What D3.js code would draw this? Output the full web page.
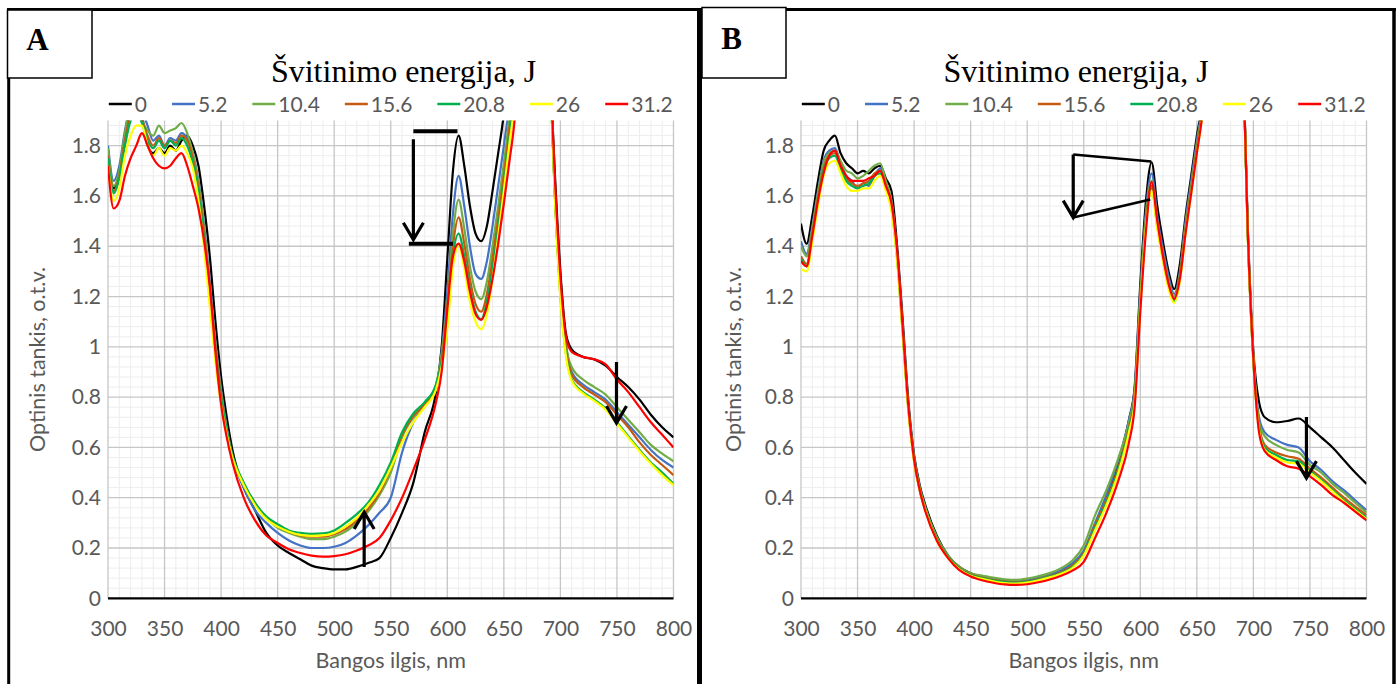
<!DOCTYPE html>
<html>
<head>
<meta charset="utf-8">
<script src="https://cdn.jsdelivr.net/npm/d3@7/dist/d3.min.js"></script>
<style>
  body { margin: 0; background: #fff; }
  svg { display: block; }
  .tick text, .legend text, .axis-title { font-family: Lato, "Open Sans", sans-serif; fill: #595959; }
</style>
</head>
<body>
<svg id="chart" width="1400" height="684"></svg>
<script>
// wavelength grid (nm) shared by all spectra
const wavelengths = [
  300, 305, 310, 315, 320, 325, 330, 335, 340, 345, 350, 355, 360, 365, 370, 375, 380, 385, 390, 395, 400,
  405, 410,
  420, 430, 440, 450, 460, 470, 480, 490, 500, 510, 520, 530, 540, 550, 560, 570, 580, 590,
  595, 600, 605, 610, 615, 620, 625, 630, 635, 640, 645, 650, 655, 660,
  670, 680, 690,
  695, 700, 705,
  710, 720, 730, 740, 750, 760, 770, 780, 790, 800
];

const energies = ["0", "5.2", "10.4", "15.6", "20.8", "26", "31.2"];
const lineColors = ["#000000", "#4472C4", "#70AD47", "#C55A11", "#00B050", "#FFFF00", "#FF0000"];

const xTicks = [300, 350, 400, 450, 500, 550, 600, 650, 700, 750, 800];
const yTicks = [0, 0.2, 0.4, 0.6, 0.8, 1, 1.2, 1.4, 1.6, 1.8];

// ---- panel A : optical density, o.t.v. ----
const a_0 = [
  1.78, 1.63, 1.68, 1.82, 1.95, 1.98, 1.92, 1.80, 1.77, 1.79, 1.77, 1.80, 1.78, 1.82, 1.84, 1.80, 1.72, 1.56, 1.36, 1.10, 0.88,
  0.72, 0.59,
  0.44, 0.35, 0.26, 0.21, 0.18, 0.155, 0.13, 0.12, 0.115, 0.115, 0.125, 0.14, 0.16, 0.24, 0.34, 0.46, 0.66, 0.82,
  1.00, 1.35, 1.70, 1.84, 1.72, 1.56, 1.45, 1.42, 1.48, 1.62, 1.77, 1.93, 2.20, 2.50,
  3.00, 3.10, 2.20,
  1.70, 1.30, 1.05,
  0.99, 0.96, 0.95, 0.925, 0.88, 0.84, 0.79, 0.73, 0.68, 0.64
];
const a_5_2 = [
  1.80, 1.66, 1.72, 1.86, 1.96, 1.98, 1.94, 1.88, 1.82, 1.84, 1.80, 1.83, 1.82, 1.85, 1.83, 1.77, 1.66, 1.48, 1.26, 1.02, 0.83,
  0.68, 0.56,
  0.44, 0.35, 0.30, 0.26, 0.23, 0.21, 0.20, 0.20, 0.205, 0.22, 0.25, 0.29, 0.34, 0.40, 0.58, 0.70, 0.77, 0.84,
  0.98, 1.22, 1.53, 1.68, 1.56, 1.40, 1.29, 1.27, 1.34, 1.48, 1.64, 1.80, 1.98, 2.30,
  3.00, 3.10, 2.20,
  1.62, 1.24, 1.01,
  0.90, 0.85, 0.82, 0.79, 0.74, 0.69, 0.64, 0.59, 0.55, 0.52
];
const a_10_4 = [
  1.79, 1.64, 1.70, 1.85, 1.95, 1.96, 1.90, 1.86, 1.84, 1.88, 1.85, 1.86, 1.87, 1.89, 1.85, 1.77, 1.65, 1.47, 1.24, 1.01, 0.82,
  0.67, 0.56,
  0.45, 0.375, 0.32, 0.28, 0.26, 0.245, 0.235, 0.235, 0.245, 0.265, 0.30, 0.345, 0.41, 0.50, 0.64, 0.72, 0.77, 0.85,
  0.97, 1.17, 1.45, 1.585, 1.47, 1.32, 1.22, 1.19, 1.26, 1.40, 1.56, 1.73, 1.92, 2.20,
  3.00, 3.10, 2.20,
  1.62, 1.22, 1.00,
  0.92, 0.87, 0.84, 0.81, 0.76, 0.71, 0.66, 0.61, 0.575, 0.545
];
const a_15_6 = [
  1.76, 1.62, 1.68, 1.82, 1.92, 1.94, 1.90, 1.84, 1.80, 1.83, 1.80, 1.82, 1.81, 1.84, 1.82, 1.75, 1.63, 1.45, 1.22, 1.00, 0.81,
  0.67, 0.56,
  0.455, 0.38, 0.32, 0.285, 0.265, 0.25, 0.245, 0.245, 0.255, 0.275, 0.31, 0.355, 0.42, 0.52, 0.65, 0.725, 0.77, 0.84,
  0.95, 1.14, 1.40, 1.515, 1.41, 1.27, 1.17, 1.14, 1.21, 1.35, 1.51, 1.68, 1.87, 2.10,
  3.00, 3.10, 2.20,
  1.62, 1.22, 0.99,
  0.89, 0.84, 0.81, 0.78, 0.73, 0.68, 0.62, 0.57, 0.53, 0.49
];
const a_20_8 = [
  1.75, 1.61, 1.67, 1.80, 1.90, 1.93, 1.89, 1.82, 1.79, 1.82, 1.79, 1.82, 1.80, 1.83, 1.80, 1.73, 1.61, 1.43, 1.20, 0.98, 0.80,
  0.67, 0.57,
  0.46, 0.38, 0.325, 0.295, 0.27, 0.26, 0.256, 0.258, 0.27, 0.30, 0.335, 0.38, 0.45, 0.54, 0.66, 0.735, 0.78, 0.85,
  0.94, 1.10, 1.36, 1.45, 1.36, 1.23, 1.14, 1.11, 1.18, 1.31, 1.47, 1.64, 1.83, 2.05,
  3.00, 3.10, 2.20,
  1.61, 1.20, 0.97,
  0.87, 0.82, 0.79, 0.755, 0.70, 0.645, 0.59, 0.54, 0.50, 0.455
];
const a_26 = [
  1.72, 1.58, 1.63, 1.76, 1.84, 1.88, 1.88, 1.80, 1.76, 1.79, 1.76, 1.79, 1.78, 1.80, 1.77, 1.71, 1.58, 1.39, 1.16, 0.94, 0.77,
  0.65, 0.56,
  0.45, 0.37, 0.315, 0.285, 0.265, 0.252, 0.248, 0.25, 0.26, 0.285, 0.32, 0.37, 0.43, 0.52, 0.62, 0.70, 0.76, 0.83,
  0.92, 1.07, 1.32, 1.40, 1.31, 1.18, 1.10, 1.07, 1.13, 1.27, 1.44, 1.62, 1.81, 2.00,
  3.00, 3.10, 2.20,
  1.60, 1.19, 0.96,
  0.865, 0.815, 0.785, 0.75, 0.695, 0.64, 0.585, 0.535, 0.49, 0.45
];
const a_31_2 = [
  1.72, 1.55, 1.58, 1.68, 1.75, 1.80, 1.85, 1.80, 1.75, 1.72, 1.71, 1.72, 1.75, 1.77, 1.72, 1.64, 1.55, 1.42, 1.24, 0.98, 0.77,
  0.64, 0.54,
  0.40, 0.31, 0.25, 0.22, 0.195, 0.18, 0.17, 0.166, 0.168, 0.175, 0.19, 0.21, 0.24, 0.31, 0.40, 0.51, 0.63, 0.78,
  0.90, 1.15, 1.36, 1.41, 1.34, 1.22, 1.13, 1.107, 1.16, 1.27, 1.41, 1.57, 1.74, 1.93,
  3.00, 3.10, 2.20,
  1.68, 1.28, 1.04,
  0.98, 0.96, 0.95, 0.93, 0.87, 0.82, 0.76, 0.70, 0.65, 0.60
];

// ---- panel B ----
const b_0 = [
  1.49, 1.41, 1.52, 1.66, 1.78, 1.82, 1.84, 1.77, 1.73, 1.71, 1.69, 1.70, 1.69, 1.71, 1.72, 1.67, 1.62, 1.40, 1.10, 0.78, 0.57,
  0.45, 0.37,
  0.25, 0.17, 0.125, 0.10, 0.085, 0.077, 0.068, 0.064, 0.07, 0.078, 0.09, 0.105, 0.13, 0.18, 0.29, 0.40, 0.53, 0.71,
  0.84, 1.25, 1.58, 1.734, 1.56, 1.42, 1.30, 1.23, 1.33, 1.52, 1.68, 1.84, 1.98, 2.30,
  2.90, 3.00, 2.30,
  1.48, 0.98, 0.78,
  0.72, 0.70, 0.705, 0.715, 0.68, 0.64, 0.60, 0.55, 0.50, 0.455
];
const b_5_2 = [
  1.42, 1.37, 1.48, 1.62, 1.74, 1.78, 1.79, 1.73, 1.68, 1.66, 1.63, 1.65, 1.64, 1.68, 1.71, 1.65, 1.58, 1.37, 1.07, 0.76, 0.56,
  0.44, 0.36,
  0.24, 0.165, 0.12, 0.098, 0.085, 0.076, 0.07, 0.067, 0.072, 0.082, 0.095, 0.112, 0.14, 0.19, 0.30, 0.41, 0.54, 0.71,
  0.83, 1.22, 1.54, 1.69, 1.52, 1.39, 1.28, 1.21, 1.30, 1.50, 1.66, 1.82, 1.97, 2.25,
  2.90, 3.00, 2.30,
  1.46, 0.96, 0.72,
  0.66, 0.63, 0.61, 0.60, 0.545, 0.51, 0.465, 0.43, 0.39, 0.35
];
const b_10_4 = [
  1.40, 1.36, 1.47, 1.61, 1.73, 1.77, 1.78, 1.74, 1.70, 1.69, 1.67, 1.68, 1.70, 1.72, 1.73, 1.66, 1.58, 1.37, 1.07, 0.76, 0.56,
  0.44, 0.36,
  0.245, 0.17, 0.125, 0.10, 0.09, 0.082, 0.075, 0.073, 0.078, 0.088, 0.10, 0.12, 0.15, 0.21, 0.33, 0.43, 0.55, 0.70,
  0.82, 1.20, 1.52, 1.66, 1.50, 1.37, 1.26, 1.20, 1.29, 1.48, 1.64, 1.80, 1.96, 2.20,
  2.90, 3.00, 2.30,
  1.46, 0.96, 0.70,
  0.645, 0.61, 0.59, 0.58, 0.53, 0.50, 0.455, 0.42, 0.38, 0.34
];
const b_15_6 = [
  1.36, 1.33, 1.45, 1.59, 1.71, 1.76, 1.77, 1.72, 1.67, 1.65, 1.64, 1.65, 1.66, 1.69, 1.70, 1.64, 1.56, 1.36, 1.06, 0.75, 0.55,
  0.43, 0.35,
  0.235, 0.165, 0.12, 0.095, 0.082, 0.072, 0.066, 0.063, 0.067, 0.076, 0.088, 0.104, 0.13, 0.18, 0.29, 0.39, 0.51, 0.68,
  0.80, 1.18, 1.50, 1.64, 1.49, 1.36, 1.25, 1.19, 1.28, 1.47, 1.63, 1.79, 1.95, 2.20,
  2.90, 3.00, 2.30,
  1.45, 0.95, 0.69,
  0.61, 0.58, 0.565, 0.555, 0.515, 0.48, 0.44, 0.40, 0.365, 0.33
];
const b_20_8 = [
  1.35, 1.32, 1.44, 1.58, 1.70, 1.75, 1.76, 1.71, 1.66, 1.64, 1.63, 1.64, 1.65, 1.68, 1.69, 1.63, 1.55, 1.35, 1.05, 0.75, 0.55,
  0.43, 0.35,
  0.235, 0.165, 0.118, 0.093, 0.08, 0.07, 0.064, 0.061, 0.065, 0.074, 0.086, 0.10, 0.125, 0.175, 0.28, 0.38, 0.50, 0.67,
  0.79, 1.17, 1.49, 1.63, 1.48, 1.35, 1.24, 1.18, 1.27, 1.46, 1.62, 1.78, 1.94, 2.20,
  2.90, 3.00, 2.30,
  1.45, 0.94, 0.68,
  0.60, 0.57, 0.55, 0.545, 0.505, 0.47, 0.43, 0.39, 0.355, 0.32
];
const b_26 = [
  1.31, 1.30, 1.42, 1.56, 1.68, 1.73, 1.74, 1.69, 1.64, 1.62, 1.62, 1.63, 1.63, 1.66, 1.68, 1.62, 1.54, 1.34, 1.04, 0.74, 0.54,
  0.43, 0.35,
  0.23, 0.16, 0.115, 0.09, 0.077, 0.067, 0.06, 0.058, 0.062, 0.071, 0.083, 0.098, 0.12, 0.17, 0.27, 0.37, 0.49, 0.66,
  0.78, 1.16, 1.48, 1.62, 1.47, 1.34, 1.23, 1.175, 1.26, 1.45, 1.61, 1.77, 1.93, 2.20,
  2.90, 3.00, 2.30,
  1.44, 0.94, 0.67,
  0.59, 0.56, 0.54, 0.535, 0.50, 0.465, 0.425, 0.385, 0.35, 0.315
];
const b_31_2 = [
  1.34, 1.32, 1.44, 1.58, 1.69, 1.76, 1.78, 1.72, 1.68, 1.66, 1.66, 1.66, 1.67, 1.68, 1.70, 1.64, 1.57, 1.38, 1.07, 0.76, 0.55,
  0.43, 0.345,
  0.23, 0.16, 0.112, 0.087, 0.072, 0.062, 0.055, 0.053, 0.056, 0.064, 0.075, 0.09, 0.11, 0.145, 0.24, 0.34, 0.46, 0.62,
  0.76, 1.14, 1.46, 1.655, 1.50, 1.36, 1.25, 1.19, 1.27, 1.45, 1.61, 1.77, 1.93, 2.20,
  2.90, 3.00, 2.30,
  1.46, 0.95, 0.66,
  0.585, 0.55, 0.525, 0.515, 0.485, 0.45, 0.41, 0.38, 0.345, 0.31
];

// hand-drawn annotations, in data units (nm, o.t.v.)
const barsA = [{ x1: 570, x2: 609, y: 1.857 }, { x1: 566, x2: 605, y: 1.41 }];
const arrowsA = [{ x: 570, y1: 1.825, y2: 1.426 }, { x: 526.5, y1: 0.124, y2: 0.343 }, { x: 749.6, y1: 0.94, y2: 0.697 }];
const linesB = [{ x1: 540.7, y1: 1.765, x2: 609.7, y2: 1.737 }, { x1: 540.7, y1: 1.514, x2: 608.8, y2: 1.586 }];
const arrowsB = [{ x: 540.7, y1: 1.765, y2: 1.514 }, { x: 746.9, y1: 0.721, y2: 0.478 }];

const svg = d3.select("#chart");
const plotW = 565.5, plotTop = 120.5, plotBottom = 598.3;
const labelSize = "21px";

const panels = [
  { name: "A", left: 108, series: [a_0, a_5_2, a_10_4, a_15_6, a_20_8, a_26, a_31_2],
    titleX: 403.5, yTitleX: 45, bars: barsA, lines: [], arrows: arrowsA,
    box: [7.5, 10, 84.5, 68], letter: [37.5, 50] },
  { name: "B", left: 801, series: [b_0, b_5_2, b_10_4, b_15_6, b_20_8, b_26, b_31_2],
    titleX: 1076, yTitleX: 741, bars: [], lines: linesB, arrows: arrowsB,
    box: [702, 7.5, 84, 70.5], letter: [731.7, 48.5] }
];

panels.forEach(drawPanel);

// outer frames
const frame = svg.append("g").attr("stroke", "#000").attr("fill", "none");
frame.append("line").attr("x1", 7).attr("x2", 1396).attr("y1", 9.5).attr("y2", 9.5).attr("stroke-width", 3);
frame.append("line").attr("x1", 8.7).attr("x2", 8.7).attr("y1", 8).attr("y2", 684).attr("stroke-width", 3);
frame.append("line").attr("x1", 699.5).attr("x2", 699.5).attr("y1", 8).attr("y2", 684).attr("stroke-width", 5);
frame.append("line").attr("x1", 1394).attr("x2", 1394).attr("y1", 8).attr("y2", 684).attr("stroke-width", 3.5);

panels.forEach(p => {
  svg.append("rect")
    .attr("x", p.box[0]).attr("y", p.box[1])
    .attr("width", p.box[2]).attr("height", p.box[3])
    .attr("fill", "#fff").attr("stroke", "#000").attr("stroke-width", 1.5);
  svg.append("text")
    .attr("x", p.letter[0]).attr("y", p.letter[1])
    .attr("text-anchor", "middle")
    .style("font-family", "'Liberation Serif', 'Times New Roman', serif")
    .style("font-weight", "bold").style("font-size", "31px")
    .text(p.name);
});

function drawPanel(p) {
  const x = d3.scaleLinear().domain([300, 800]).range([p.left, p.left + plotW]);
  const y = d3.scaleLinear().domain([0, 1.9]).range([plotBottom, plotTop]);
  const g = svg.append("g");

  // minor grid
  g.append("g").selectAll("line")
    .data(d3.range(310, 800, 10).filter(v => v % 50 !== 0))
    .join("line")
    .attr("x1", d => x(d)).attr("x2", d => x(d))
    .attr("y1", plotTop).attr("y2", plotBottom)
    .attr("stroke", "#ededed").attr("stroke-width", 1);
  g.append("g").selectAll("line")
    .data(d3.range(1, 48).map(i => i * 0.04).filter((v, i) => (i + 1) % 5 !== 0))
    .join("line")
    .attr("x1", x(300)).attr("x2", x(800))
    .attr("y1", d => y(d)).attr("y2", d => y(d))
    .attr("stroke", "#ededed").attr("stroke-width", 1);

  // major grid
  g.append("g").selectAll("line")
    .data(xTicks)
    .join("line")
    .attr("x1", d => x(d)).attr("x2", d => x(d))
    .attr("y1", plotTop).attr("y2", plotBottom)
    .attr("stroke", "#c6c6c6").attr("stroke-width", 1.3);
  g.append("g").selectAll("line")
    .data(yTicks.filter(v => v > 0))
    .join("line")
    .attr("x1", x(300)).attr("x2", x(800))
    .attr("y1", d => y(d)).attr("y2", d => y(d))
    .attr("stroke", "#c6c6c6").attr("stroke-width", 1.3);

  // spectra
  const clipId = "clip" + p.name;
  svg.append("clipPath").attr("id", clipId)
    .append("rect")
    .attr("x", x(300)).attr("y", plotTop)
    .attr("width", plotW).attr("height", plotBottom - plotTop);

  const line = d3.line()
    .x((d, i) => x(wavelengths[i]))
    .y(d => y(d))
    .curve(d3.curveMonotoneX);

  g.append("g").attr("clip-path", "url(#" + clipId + ")")
    .selectAll("path")
    .data(p.series)
    .join("path")
    .attr("d", line)
    .attr("fill", "none")
    .attr("stroke", (d, i) => lineColors[i])
    .attr("stroke-width", 2.2)
    .attr("stroke-linejoin", "round");

  // axes
  g.append("line")
    .attr("x1", x(300)).attr("x2", x(800))
    .attr("y1", y(0)).attr("y2", y(0))
    .attr("stroke", "#000").attr("stroke-width", 2.2);

  const xAxis = g.append("g")
    .attr("transform", "translate(0," + plotBottom + ")")
    .call(d3.axisBottom(x).tickValues(xTicks).tickSize(0).tickPadding(23));
  const yAxis = g.append("g")
    .attr("transform", "translate(" + x(300) + ",0)")
    .call(d3.axisLeft(y).tickValues(yTicks).tickSize(0).tickPadding(7)
      .tickFormat(d => String(+d.toFixed(1))));
  [xAxis, yAxis].forEach(a => {
    a.select(".domain").remove();
    a.selectAll("text").style("font-size", labelSize).style("font-family", "Lato, sans-serif").attr("fill", "#595959");
  });

  g.append("text").attr("class", "axis-title")
    .attr("x", x(550)).attr("y", 668)
    .attr("text-anchor", "middle").style("font-size", "21.5px")
    .text("Bangos ilgis, nm");
  g.append("text").attr("class", "axis-title")
    .attr("transform", "translate(" + p.yTitleX + "," + y(0.95) + ") rotate(-90)")
    .attr("text-anchor", "middle").style("font-size", "21.5px")
    .text("Optinis tankis, o.t.v.");

  // chart title
  g.append("text")
    .attr("x", p.titleX).attr("y", 82)
    .attr("text-anchor", "middle")
    .style("font-family", "'Liberation Serif', 'Times New Roman', serif")
    .style("font-size", "32px").attr("fill", "#000")
    .text("Švitinimo energija, J");

  // legend
  const legend = g.append("g").attr("class", "legend");
  let cx = 0;
  energies.forEach((e, i) => {
    const item = legend.append("g").attr("transform", "translate(" + cx + ",0)");
    item.append("line").attr("x1", 0).attr("x2", 23).attr("y1", 0).attr("y2", 0)
      .attr("stroke", lineColors[i]).attr("stroke-width", 2.5);
    const t = item.append("text").attr("x", 26).attr("y", 7.5)
      .style("font-size", labelSize).text(e);
    cx += 26 + t.node().getComputedTextLength() + 25;
  });
  const legendW = cx - 25;
  legend.attr("transform", "translate(" + (x(550) - legendW / 2) + ",104)");

  // annotations
  const ann = g.append("g").attr("stroke", "#000").attr("fill", "none").attr("stroke-linecap", "butt");
  ann.selectAll(".bar").data(p.bars).join("line").attr("class", "bar")
    .attr("x1", d => x(d.x1)).attr("x2", d => x(d.x2))
    .attr("y1", d => y(d.y)).attr("y2", d => y(d.y))
    .attr("stroke-width", 4);
  ann.selectAll(".guide").data(p.lines).join("line").attr("class", "guide")
    .attr("x1", d => x(d.x1)).attr("x2", d => x(d.x2))
    .attr("y1", d => y(d.y1)).attr("y2", d => y(d.y2))
    .attr("stroke-width", 2.5);
  ann.selectAll(".arrow").data(p.arrows).join("path").attr("class", "arrow")
    .attr("stroke-width", 3.2)
    .attr("d", d => {
      const ax = x(d.x), y1 = y(d.y1), y2 = y(d.y2);
      const dir = y2 > y1 ? -1 : 1;
      return "M" + ax + "," + y1 + "L" + ax + "," + y2 +
        "M" + (ax - 10) + "," + (y2 + dir * 17) + "L" + ax + "," + y2 + "L" + (ax + 10) + "," + (y2 + dir * 17);
    });
}
</script>
</body>
</html>
